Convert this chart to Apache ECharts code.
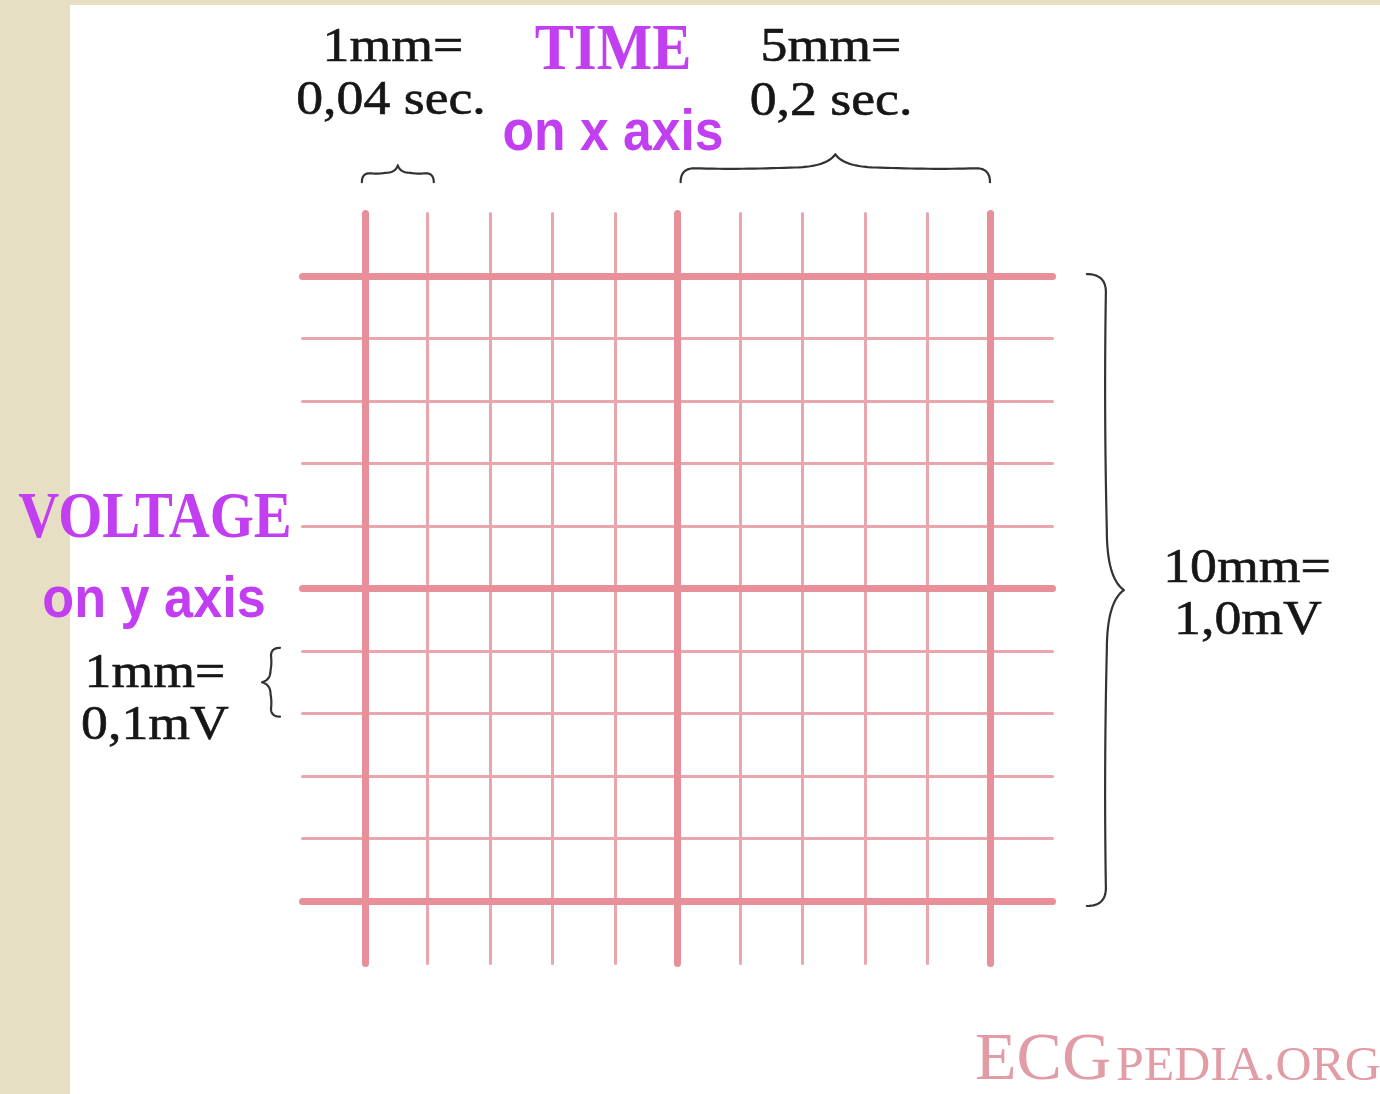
<!DOCTYPE html>
<html><head><meta charset="utf-8">
<script src="https://cdn.jsdelivr.net/npm/echarts@6/dist/echarts.min.js"></script>
<style>html,body{margin:0;padding:0;background:#e7dfc3;overflow:hidden}#c{width:1380px;height:1094px}</style>
</head><body><div id="c"></div>
<script>
// ---- data (millimetre grid of ECG paper) ----
const timeMm = [0, 1, 2, 3, 4, 5, 6, 7, 8, 9, 10];      // vertical lines
const voltageMm = [0, 1, 2, 3, 4, 5, 6, 7, 8, 9, 10];   // horizontal lines
const majorEveryMm = 5;
const lineSpanMm = [-1, 11];
const topLeftLabel = ['1mm=', '0,04 sec.'];
const topRightLabel = ['5mm=', '0,2 sec.'];
const leftLabel = ['1mm=', '0,1mV'];
const rightLabel = ['10mm=', '1,0mV'];
const timeTitle = ['TIME', 'on x axis'];
const voltageTitle = ['VOLTAGE', 'on y axis'];
const brand = ['ECG', 'PEDIA.ORG'];
// brace spans in mm: [from, to] and fixed coordinate
const braceTopSmall = [[-0.05, 1.1], 11.5];
const braceTopLarge = [[5.05, 10.0], 11.5];
const braceRight = [[-0.08, 10.03], 11.55];
const braceLeft = [[2.95, 4.05], -1.36];

const MAJOR = '#e8909a', MINOR = '#eba6ad';
const PURPLE = '#c13ef1', INK = '#161616';
const SERIF = '"Liberation Serif", "DejaVu Serif", serif';
const SANS = '"Liberation Sans", Arial, sans-serif';

function item(coords, major) {
  return { coords, lineStyle: { color: major ? MAJOR : MINOR, width: major ? 7 : 3, opacity: 1, cap: 'round' } };
}
const vertical = timeMm.map(t => ({ t, major: t % majorEveryMm === 0 }));
const horizontal = voltageMm.map(v => ({ v, major: v % majorEveryMm === 0 }));
const minorData = [], majorData = [];
vertical.forEach(d => (d.major ? majorData : minorData).push(item([[d.t, lineSpanMm[0]], [d.t, lineSpanMm[1]]], d.major)));
horizontal.forEach(d => (d.major ? majorData : minorData).push(item([[lineSpanMm[0], d.v], [lineSpanMm[1], d.v]], d.major)));

const chart = echarts.init(document.getElementById('c'), null, { renderer: 'canvas' });
chart.setOption({
  animation: false,
  backgroundColor: '#e7dfc3',
  grid: { left: 240, top: 151, width: 875, height: 875 },
  xAxis: { type: 'value', min: -2, max: 12, show: false },
  yAxis: { type: 'value', min: -2, max: 12, show: false },
  series: [
    { type: 'lines', coordinateSystem: 'cartesian2d', silent: true, z: 2, lineStyle: { opacity: 1, curveness: 0, cap: 'round' }, data: minorData },
    { type: 'lines', coordinateSystem: 'cartesian2d', silent: true, z: 3, lineStyle: { opacity: 1, curveness: 0, cap: 'round' }, data: majorData }
  ]
});

function px(x, y) { return chart.convertToPixel({ gridIndex: 0 }, [x, y]); }

// curly brace from A to B; sampled into polyline points
function brace(A, B, w, h, r, t) {
  const dx = B[0] - A[0], dy = B[1] - A[1];
  const len = Math.hypot(dx, dy);
  const u = [dx / len, dy / len];
  const n = [-u[1], u[0]];
  const P = (s, o) => [A[0] + u[0] * s + n[0] * o, A[1] + u[1] * s + n[1] * o];
  const m = len / 2;
  const pts = [];
  function quad(p0, c, p1) {
    for (let i = 0; i <= 16; i++) {
      const k = i / 16, a = (1 - k) * (1 - k), b = 2 * k * (1 - k), d = k * k;
      pts.push([a * p0[0] + b * c[0] + d * p1[0], a * p0[1] + b * c[1] + d * p1[1]]);
    }
  }
  quad(P(0, 0), P(0, h), P(r, h));
  quad(P(r, h), P((r + m - t) / 2, h * 0.9), P(m - t, h * 1.05));
  quad(P(m - t, h * 1.05), P(m - t * 0.2, h * 1.05), P(m, w));
  quad(P(m, w), P(m + t * 0.2, h * 1.05), P(m + t, h * 1.05));
  quad(P(m + t, h * 1.05), P((len - r + m + t) / 2, h * 0.9), P(len - r, h));
  quad(P(len - r, h), P(len, h), P(len, 0));
  return pts;
}
function braceEl(points) {
  return { type: 'polyline', shape: { points }, style: { fill: null, stroke: '#333', lineWidth: 2.2, lineJoin: 'round', lineCap: 'round' }, z: 5 };
}
function txt(text, x, y, o) {
  return {
    type: 'text', x, y, scaleX: o.sx || 1, z: 6,
    style: { text, fill: o.fill, fontSize: o.size, fontFamily: o.family, fontWeight: o.weight || 'normal', align: o.align || 'center', verticalAlign: 'middle', stroke: o.stroke || null, lineWidth: o.stroke ? 0.6 : 0 }
  };
}
const ink = { fill: INK, size: 48, family: SERIF, sx: 1.12, stroke: INK };
const ts = braceTopSmall, tl = braceTopLarge, br = braceRight, bl = braceLeft;
const elements = [
  { type: 'rect', shape: { x: 70, y: 5, width: 1310, height: 1089 }, style: { fill: '#ffffff' }, z: 0 },
  // top braces: A = right end, B = left end
  braceEl(brace(px(ts[0][1], ts[1]), px(ts[0][0], ts[1]), 17, 9, 8, 12)),
  braceEl(brace(px(tl[0][1], tl[1]), px(tl[0][0], tl[1]), 28, 14, 14, 45)),
  // right brace: A = bottom, B = top
  braceEl(brace(px(br[1], br[0][0]), px(br[1], br[0][1]), 37, 19, 18, 60)),
  // left brace: A = top, B = bottom
  braceEl(brace(px(bl[1], bl[0][1]), px(bl[1], bl[0][0]), 18, 9, 8, 12)),
  txt(topLeftLabel[0], 393, 48, ink),
  txt(topLeftLabel[1], 391, 101, ink),
  txt(topRightLabel[0], 831, 48, ink),
  txt(topRightLabel[1], 831, 102, ink),
  txt(leftLabel[0], 155, 674, ink),
  txt(leftLabel[1], 155, 726, ink),
  txt(rightLabel[0], 1247, 569, ink),
  txt(rightLabel[1], 1248, 621, ink),
  txt(timeTitle[0], 613, 52, { fill: PURPLE, size: 66, family: SERIF, weight: 'bold', sx: 0.89 }),
  txt(timeTitle[1], 613, 134, { fill: PURPLE, size: 58, family: SANS, weight: 'bold', sx: 0.89 }),
  txt(voltageTitle[0], 155, 520, { fill: PURPLE, size: 66, family: SERIF, weight: 'bold', sx: 0.86 }),
  txt(voltageTitle[1], 154, 601, { fill: PURPLE, size: 58, family: SANS, weight: 'bold', sx: 0.9 }),
  txt(brand[0], 975, 1061, { fill: '#e19ca5', size: 68, family: SERIF, align: 'left' }),
  txt(brand[1], 1116, 1067, { fill: '#e19ca5', size: 48, family: SERIF, align: 'left', sx: 1.04 })
];
chart.setOption({ graphic: { elements } });
</script>
</body></html>
